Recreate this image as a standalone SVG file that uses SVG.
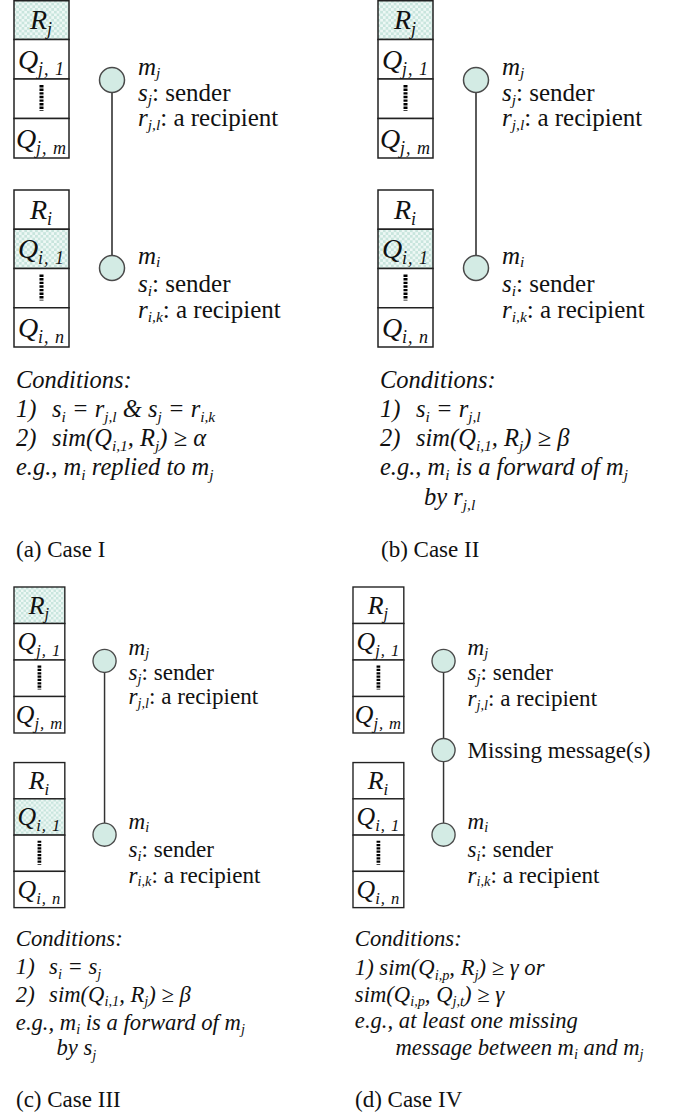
<svg xmlns="http://www.w3.org/2000/svg" width="676" height="1114" viewBox="0 0 676 1114" font-family="Liberation Serif, serif">
<defs>
<pattern id="chk" width="5.4" height="5.4" patternUnits="userSpaceOnUse">
<rect width="5.4" height="5.4" fill="#eef8f5"/>
<rect width="2.7" height="2.7" fill="#c8e5dd"/>
<rect x="2.7" y="2.7" width="2.7" height="2.7" fill="#c8e5dd"/>
</pattern>
<style>
text, tspan{font-family:"Liberation Serif", serif}
text{fill:#111}
.lb{font-size:25px}
.it{font-style:italic}
.sb{font-size:15.5px;font-style:italic}
.cd{font-size:24.5px;font-style:italic}
.bl{font-size:28px;font-style:italic}
.bs{font-size:18px;font-style:italic;letter-spacing:1px}
.cap{font-size:23px}
.cell{fill:#fff;stroke:#222;stroke-width:1.5}
.sh{fill:url(#chk);stroke:#222;stroke-width:1.5}
.dots{stroke:#000;stroke-width:4;stroke-dasharray:2.4 1.2}
.node{fill:#d3ebe4;stroke:#4a4a4a;stroke-width:1.5}
.edge{stroke:#333;stroke-width:1.6;fill:none}
</style>
</defs>
<rect width="676" height="1114" fill="#fff"/>

<!-- Panel (a) -->
<g id="panelA">
  <g id="a-stack-j">
    <rect class="sh" x="14" y="0.75" width="55" height="38.75"/>
    <rect class="cell" x="14" y="39.5" width="55" height="39.5"/>
    <rect class="cell" x="14" y="79" width="55" height="39.5"/>
    <rect class="cell" x="14" y="118.5" width="55" height="39.5"/>
    <text class="bl" x="41.5" y="29" text-anchor="middle">R<tspan class="bs" dy="6">j</tspan></text>
    <text class="bl" x="41.5" y="68.5" text-anchor="middle">Q<tspan class="bs" dy="6">j, 1</tspan></text>
    <line class="dots" x1="41.5" y1="85" x2="41.5" y2="111"/>
    <text class="bl" x="41.5" y="147.5" text-anchor="middle">Q<tspan class="bs" dy="6">j, m</tspan></text>
  </g>
  <g id="a-stack-i">
    <rect class="cell" x="14" y="190" width="55" height="39.25"/>
    <rect class="sh" x="14" y="229.25" width="55" height="39.25"/>
    <rect class="cell" x="14" y="268.5" width="55" height="39.25"/>
    <rect class="cell" x="14" y="307.75" width="55" height="39.25"/>
    <text class="bl" x="41.5" y="219" text-anchor="middle">R<tspan class="bs" dy="6">i</tspan></text>
    <text class="bl" x="41.5" y="258" text-anchor="middle">Q<tspan class="bs" dy="6">i, 1</tspan></text>
    <line class="dots" x1="41.5" y1="274.5" x2="41.5" y2="300.5"/>
    <text class="bl" x="41.5" y="337" text-anchor="middle">Q<tspan class="bs" dy="6">i, n</tspan></text>
  </g>
  <g id="a-connectors"><line class="edge" x1="112" y1="80" x2="112" y2="268"/></g>
  <g id="a-mj">
    <circle class="node" cx="112" cy="80" r="12.5"/>
    <text class="lb" x="138" y="75"><tspan class="it">m</tspan><tspan class="sb" dy="3">j</tspan></text>
    <text class="lb" x="138" y="101"><tspan class="it">s</tspan><tspan class="sb" dy="4">j</tspan><tspan dy="-4">: sender</tspan></text>
    <text class="lb" x="138" y="126"><tspan class="it">r</tspan><tspan class="sb" dy="4">j,l</tspan><tspan dy="-4">: a recipient</tspan></text>
  </g>
  <g id="a-mi">
    <circle class="node" cx="112" cy="268" r="12.5"/>
    <text class="lb" x="138" y="264"><tspan class="it">m</tspan><tspan class="sb" dy="3">i</tspan></text>
    <text class="lb" x="138" y="292"><tspan class="it">s</tspan><tspan class="sb" dy="4">i</tspan><tspan dy="-4">: sender</tspan></text>
    <text class="lb" x="138" y="318"><tspan class="it">r</tspan><tspan class="sb" dy="4">i,k</tspan><tspan dy="-4">: a recipient</tspan></text>
  </g>
  <g id="a-conditions">
    <text class="cd" x="16" y="388">Conditions:</text>
    <text class="cd" x="16" y="417">1)<tspan x="52">s</tspan><tspan class="sb" dy="5">i</tspan><tspan dy="-5"> = r</tspan><tspan class="sb" dy="5">j,l</tspan><tspan dy="-5"> &amp; s</tspan><tspan class="sb" dy="5">j</tspan><tspan dy="-5"> = r</tspan><tspan class="sb" dy="5">i,k</tspan></text>
    <text class="cd" x="16" y="446">2)<tspan x="52">sim(Q</tspan><tspan class="sb" dy="5">i,1</tspan><tspan dy="-5">, R</tspan><tspan class="sb" dy="5">j</tspan><tspan dy="-5">) ≥ α</tspan></text>
    <text class="cd" x="16" y="475">e.g., m<tspan class="sb" dy="5">i</tspan><tspan dy="-5"> replied to m</tspan><tspan class="sb" dy="5">j</tspan></text>
  </g>
</g>
<text id="capA" class="cap" x="16" y="557">(a) Case I</text>

<!-- Panel (b) -->
<g id="panelB" transform="translate(364,0)">
  <g id="b-stack-j">
    <rect class="sh" x="14" y="0.75" width="55" height="38.75"/>
    <rect class="cell" x="14" y="39.5" width="55" height="39.5"/>
    <rect class="cell" x="14" y="79" width="55" height="39.5"/>
    <rect class="cell" x="14" y="118.5" width="55" height="39.5"/>
    <text class="bl" x="41.5" y="29" text-anchor="middle">R<tspan class="bs" dy="6">j</tspan></text>
    <text class="bl" x="41.5" y="68.5" text-anchor="middle">Q<tspan class="bs" dy="6">j, 1</tspan></text>
    <line class="dots" x1="41.5" y1="85" x2="41.5" y2="111"/>
    <text class="bl" x="41.5" y="147.5" text-anchor="middle">Q<tspan class="bs" dy="6">j, m</tspan></text>
  </g>
  <g id="b-stack-i">
    <rect class="cell" x="14" y="190" width="55" height="39.25"/>
    <rect class="sh" x="14" y="229.25" width="55" height="39.25"/>
    <rect class="cell" x="14" y="268.5" width="55" height="39.25"/>
    <rect class="cell" x="14" y="307.75" width="55" height="39.25"/>
    <text class="bl" x="41.5" y="219" text-anchor="middle">R<tspan class="bs" dy="6">i</tspan></text>
    <text class="bl" x="41.5" y="258" text-anchor="middle">Q<tspan class="bs" dy="6">i, 1</tspan></text>
    <line class="dots" x1="41.5" y1="274.5" x2="41.5" y2="300.5"/>
    <text class="bl" x="41.5" y="337" text-anchor="middle">Q<tspan class="bs" dy="6">i, n</tspan></text>
  </g>
  <g id="b-connectors"><line class="edge" x1="112" y1="80" x2="112" y2="268"/></g>
  <g id="b-mj">
    <circle class="node" cx="112" cy="80" r="12.5"/>
    <text class="lb" x="138" y="75"><tspan class="it">m</tspan><tspan class="sb" dy="3">j</tspan></text>
    <text class="lb" x="138" y="101"><tspan class="it">s</tspan><tspan class="sb" dy="4">j</tspan><tspan dy="-4">: sender</tspan></text>
    <text class="lb" x="138" y="126"><tspan class="it">r</tspan><tspan class="sb" dy="4">j,l</tspan><tspan dy="-4">: a recipient</tspan></text>
  </g>
  <g id="b-mi">
    <circle class="node" cx="112" cy="268" r="12.5"/>
    <text class="lb" x="138" y="264"><tspan class="it">m</tspan><tspan class="sb" dy="3">i</tspan></text>
    <text class="lb" x="138" y="292"><tspan class="it">s</tspan><tspan class="sb" dy="4">i</tspan><tspan dy="-4">: sender</tspan></text>
    <text class="lb" x="138" y="318"><tspan class="it">r</tspan><tspan class="sb" dy="4">i,k</tspan><tspan dy="-4">: a recipient</tspan></text>
  </g>
  <g id="b-conditions">
    <text class="cd" x="16" y="388">Conditions:</text>
    <text class="cd" x="16" y="417">1)<tspan x="52">s</tspan><tspan class="sb" dy="5">i</tspan><tspan dy="-5"> = r</tspan><tspan class="sb" dy="5">j,l</tspan></text>
    <text class="cd" x="16" y="446">2)<tspan x="52">sim(Q</tspan><tspan class="sb" dy="5">i,1</tspan><tspan dy="-5">, R</tspan><tspan class="sb" dy="5">j</tspan><tspan dy="-5">) ≥ β</tspan></text>
    <text class="cd" x="16" y="475">e.g., m<tspan class="sb" dy="5">i</tspan><tspan dy="-5"> is a forward of m</tspan><tspan class="sb" dy="5">j</tspan></text>
    <text class="cd" x="60" y="505">by r<tspan class="sb" dy="5">j,l</tspan></text>
  </g>
</g>
<text id="capB" class="cap" x="381" y="557">(b) Case II</text>

<!-- Panel (c) -->
<g id="panelC" transform="translate(1.064,587) scale(0.924)">
  <g id="c-stack-j">
    <rect class="sh" x="14" y="0" width="55" height="39.5"/>
    <rect class="cell" x="14" y="39.5" width="55" height="39.5"/>
    <rect class="cell" x="14" y="79" width="55" height="39.5"/>
    <rect class="cell" x="14" y="118.5" width="55" height="39.5"/>
    <text class="bl" x="41.5" y="29" text-anchor="middle">R<tspan class="bs" dy="6">j</tspan></text>
    <text class="bl" x="41.5" y="68.5" text-anchor="middle">Q<tspan class="bs" dy="6">j, 1</tspan></text>
    <line class="dots" x1="41.5" y1="85" x2="41.5" y2="111"/>
    <text class="bl" x="41.5" y="147.5" text-anchor="middle">Q<tspan class="bs" dy="6">j, m</tspan></text>
  </g>
  <g id="c-stack-i">
    <rect class="cell" x="14" y="190" width="55" height="39.25"/>
    <rect class="sh" x="14" y="229.25" width="55" height="39.25"/>
    <rect class="cell" x="14" y="268.5" width="55" height="39.25"/>
    <rect class="cell" x="14" y="307.75" width="55" height="39.25"/>
    <text class="bl" x="41.5" y="219" text-anchor="middle">R<tspan class="bs" dy="6">i</tspan></text>
    <text class="bl" x="41.5" y="258" text-anchor="middle">Q<tspan class="bs" dy="6">i, 1</tspan></text>
    <line class="dots" x1="41.5" y1="274.5" x2="41.5" y2="300.5"/>
    <text class="bl" x="41.5" y="337" text-anchor="middle">Q<tspan class="bs" dy="6">i, n</tspan></text>
  </g>
  <g id="c-connectors"><line class="edge" x1="112" y1="80" x2="112" y2="268"/></g>
  <g id="c-mj">
    <circle class="node" cx="112" cy="80" r="12.5"/>
    <text class="lb" x="138" y="74"><tspan class="it">m</tspan><tspan class="sb" dy="3">j</tspan></text>
    <text class="lb" x="138" y="101"><tspan class="it">s</tspan><tspan class="sb" dy="4">j</tspan><tspan dy="-4">: sender</tspan></text>
    <text class="lb" x="138" y="127"><tspan class="it">r</tspan><tspan class="sb" dy="4">j,l</tspan><tspan dy="-4">: a recipient</tspan></text>
  </g>
  <g id="c-mi">
    <circle class="node" cx="112" cy="268" r="12.5"/>
    <text class="lb" x="138" y="262"><tspan class="it">m</tspan><tspan class="sb" dy="3">i</tspan></text>
    <text class="lb" x="138" y="292"><tspan class="it">s</tspan><tspan class="sb" dy="4">i</tspan><tspan dy="-4">: sender</tspan></text>
    <text class="lb" x="138" y="320"><tspan class="it">r</tspan><tspan class="sb" dy="4">i,k</tspan><tspan dy="-4">: a recipient</tspan></text>
  </g>
  <g id="c-conditions">
    <text class="cd" x="16" y="388">Conditions:</text>
    <text class="cd" x="16" y="419">1)<tspan x="52">s</tspan><tspan class="sb" dy="5">i</tspan><tspan dy="-5"> = s</tspan><tspan class="sb" dy="5">j</tspan></text>
    <text class="cd" x="16" y="449">2)<tspan x="52">sim(Q</tspan><tspan class="sb" dy="5">i,1</tspan><tspan dy="-5">, R</tspan><tspan class="sb" dy="5">j</tspan><tspan dy="-5">) ≥ β</tspan></text>
    <text class="cd" x="16" y="479">e.g., m<tspan class="sb" dy="5">i</tspan><tspan dy="-5"> is a forward of m</tspan><tspan class="sb" dy="5">j</tspan></text>
    <text class="cd" x="60" y="507">by s<tspan class="sb" dy="5">j</tspan></text>
  </g>
</g>
<text id="capC" class="cap" x="16" y="1107">(c) Case III</text>

<!-- Panel (d) -->
<g id="panelD" transform="translate(340.06,587) scale(0.924)">
  <g id="d-stack-j">
    <rect class="cell" x="14" y="0" width="55" height="39.5"/>
    <rect class="cell" x="14" y="39.5" width="55" height="39.5"/>
    <rect class="cell" x="14" y="79" width="55" height="39.5"/>
    <rect class="cell" x="14" y="118.5" width="55" height="39.5"/>
    <text class="bl" x="41.5" y="29" text-anchor="middle">R<tspan class="bs" dy="6">j</tspan></text>
    <text class="bl" x="41.5" y="68.5" text-anchor="middle">Q<tspan class="bs" dy="6">j, 1</tspan></text>
    <line class="dots" x1="41.5" y1="85" x2="41.5" y2="111"/>
    <text class="bl" x="41.5" y="147.5" text-anchor="middle">Q<tspan class="bs" dy="6">j, m</tspan></text>
  </g>
  <g id="d-stack-i">
    <rect class="cell" x="14" y="190" width="55" height="39.25"/>
    <rect class="cell" x="14" y="229.25" width="55" height="39.25"/>
    <rect class="cell" x="14" y="268.5" width="55" height="39.25"/>
    <rect class="cell" x="14" y="307.75" width="55" height="39.25"/>
    <text class="bl" x="41.5" y="219" text-anchor="middle">R<tspan class="bs" dy="6">i</tspan></text>
    <text class="bl" x="41.5" y="258" text-anchor="middle">Q<tspan class="bs" dy="6">i, 1</tspan></text>
    <line class="dots" x1="41.5" y1="274.5" x2="41.5" y2="300.5"/>
    <text class="bl" x="41.5" y="337" text-anchor="middle">Q<tspan class="bs" dy="6">i, n</tspan></text>
  </g>
  <g id="d-connectors"><line class="edge" x1="112" y1="80" x2="112" y2="268"/></g>
  <g id="d-mj">
    <circle class="node" cx="112" cy="80" r="12.5"/>
    <text class="lb" x="138" y="74"><tspan class="it">m</tspan><tspan class="sb" dy="3">j</tspan></text>
    <text class="lb" x="138" y="101"><tspan class="it">s</tspan><tspan class="sb" dy="4">j</tspan><tspan dy="-4">: sender</tspan></text>
    <text class="lb" x="138" y="129"><tspan class="it">r</tspan><tspan class="sb" dy="4">j,l</tspan><tspan dy="-4">: a recipient</tspan></text>
  </g>
  <g id="d-missing">
    <circle class="node" cx="112" cy="176.5" r="12.5"/>
    <text class="lb" x="138" y="185">Missing message(s)</text>
  </g>
  <g id="d-mi">
    <circle class="node" cx="112" cy="268" r="12.5"/>
    <text class="lb" x="138" y="262"><tspan class="it">m</tspan><tspan class="sb" dy="3">i</tspan></text>
    <text class="lb" x="138" y="292"><tspan class="it">s</tspan><tspan class="sb" dy="4">i</tspan><tspan dy="-4">: sender</tspan></text>
    <text class="lb" x="138" y="320"><tspan class="it">r</tspan><tspan class="sb" dy="4">i,k</tspan><tspan dy="-4">: a recipient</tspan></text>
  </g>
  <g id="d-conditions">
    <text class="cd" x="16" y="388">Conditions:</text>
    <text class="cd" x="16" y="420">1) sim(Q<tspan class="sb" dy="5">i,p</tspan><tspan dy="-5">, R</tspan><tspan class="sb" dy="5">j</tspan><tspan dy="-5">) ≥ γ or</tspan></text>
    <text class="cd" x="16" y="449">sim(Q<tspan class="sb" dy="5">i,p</tspan><tspan dy="-5">, Q</tspan><tspan class="sb" dy="5">j,t</tspan><tspan dy="-5">) ≥ γ</tspan></text>
    <text class="cd" x="16" y="477">e.g., at least one missing</text>
    <text class="cd" x="60" y="506">message between m<tspan class="sb" dy="5">i</tspan><tspan dy="-5"> and m</tspan><tspan class="sb" dy="5">j</tspan></text>
  </g>
</g>
<text id="capD" class="cap" x="355" y="1107">(d) Case IV</text>
</svg>
